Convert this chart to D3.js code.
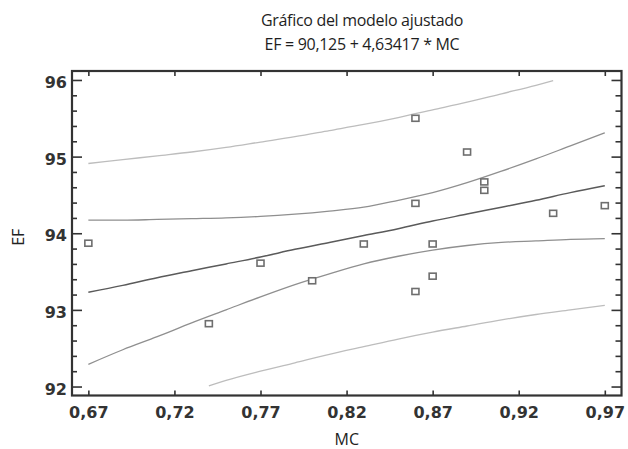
<!DOCTYPE html>
<html>
<head>
<meta charset="utf-8">
<script src="https://cdn.jsdelivr.net/npm/d3@7"></script>
<style>
  html, body { margin: 0; padding: 0; background: #fff; }
  svg { display: block; }
</style>
</head>
<body>
<svg id="chart" width="628" height="449"></svg>
<script>
// ---- Data ----
const titleLines = ["Gráfico del modelo ajustado", "EF = 90,125 + 4,63417 * MC"];
const xLabel = "MC";
const yLabel = "EF";
const xTickValues = [0.67, 0.72, 0.77, 0.82, 0.87, 0.92, 0.97];
const yTickValues = [92, 93, 94, 95, 96];
const yMinorTickValues = [92.2, 92.4, 92.6, 92.8, 93.2, 93.4, 93.6, 93.8, 94.2, 94.4, 94.6, 94.8, 95.2, 95.4, 95.6, 95.8];

// observed points
const mc = [0.67, 0.74, 0.77, 0.80, 0.83, 0.86, 0.86, 0.86, 0.87, 0.87, 0.89, 0.90, 0.90, 0.94, 0.97];
const ef = [93.87, 92.82, 93.61, 93.38, 93.86, 95.50, 94.39, 93.24, 93.86, 93.44, 95.06, 94.67, 94.56, 94.26, 94.36];

// curves
const curveMC = [0.67, 0.69, 0.71, 0.73, 0.75, 0.77, 0.79, 0.81, 0.83, 0.85, 0.87, 0.89, 0.91, 0.93, 0.95, 0.97];
const fitted  = [93.23, 93.32, 93.42, 93.51, 93.60, 93.69, 93.79, 93.88, 93.97, 94.06, 94.16, 94.25, 94.34, 94.43, 94.53, 94.62];
const confUpper = [94.17, 94.17, 94.18, 94.19, 94.20, 94.22, 94.25, 94.29, 94.34, 94.43, 94.53, 94.66, 94.81, 94.97, 95.14, 95.31];
const confLower = [92.29, 92.48, 92.65, 92.83, 93.00, 93.17, 93.33, 93.47, 93.60, 93.70, 93.78, 93.84, 93.88, 93.90, 93.92, 93.93];
const predUpperMC = [0.67, 0.69, 0.71, 0.73, 0.75, 0.77, 0.79, 0.81, 0.83, 0.85, 0.87, 0.89, 0.91, 0.93, 0.94];
const predUpper   = [94.91, 94.96, 95.01, 95.06, 95.12, 95.19, 95.26, 95.34, 95.42, 95.51, 95.61, 95.71, 95.82, 95.93, 95.99];
const predLowerMC = [0.74, 0.75, 0.77, 0.79, 0.81, 0.83, 0.85, 0.87, 0.89, 0.91, 0.93, 0.95, 0.97];
const predLower   = [92.01, 92.08, 92.20, 92.31, 92.42, 92.52, 92.62, 92.71, 92.79, 92.87, 92.94, 93.00, 93.06];

// ---- Layout ----
const svg = d3.select("#chart");
const plot = { left: 72, right: 621.5, top: 71, bottom: 395.5 };

const x = d3.scaleLinear().domain([0.6605, 0.9797]).range([plot.left, plot.right]);
const y = d3.scaleLinear().domain([91.883, 96.117]).range([plot.bottom, plot.top]);

const locale = d3.formatLocale({ decimal: ",", thousands: ".", grouping: [3], currency: ["", ""] });
const fmtX = locale.format(".2f");
const fmtY = locale.format("d");

const textFont = "'Open Sans', sans-serif";
const tickFont = "'DejaVu Sans', sans-serif";

// Title
svg.append("g").selectAll("text").data(titleLines).join("text")
  .attr("x", 362)
  .attr("y", (d, i) => 26 + i * 24)
  .attr("text-anchor", "middle")
  .attr("font-family", textFont)
  .attr("font-size", 16)
  .attr("letter-spacing", "-0.3")
  .attr("fill", "#1e1e1e")
  .text(d => d);

// Curves
const line = d3.line().x(d => x(d[0])).y(d => y(d[1])).curve(d3.curveMonotoneX);
const zip = (a, b) => a.map((v, i) => [v, b[i]]);

const curves = [
  { pts: zip(predUpperMC, predUpper), color: "#bdbdbd", w: 1.3 },
  { pts: zip(predLowerMC, predLower), color: "#bdbdbd", w: 1.3 },
  { pts: zip(curveMC, confUpper), color: "#8f8f8f", w: 1.3 },
  { pts: zip(curveMC, confLower), color: "#8f8f8f", w: 1.3 },
  { pts: zip(curveMC, fitted), color: "#5a5a5a", w: 1.5 }
];
svg.append("g").selectAll("path").data(curves).join("path")
  .attr("d", d => line(d.pts))
  .attr("fill", "none")
  .attr("stroke", d => d.color)
  .attr("stroke-width", d => d.w);

// Points
svg.append("g").selectAll("rect").data(zip(mc, ef)).join("rect")
  .attr("x", d => x(d[0]) - 3.5)
  .attr("y", d => y(d[1]) - 3)
  .attr("width", 7)
  .attr("height", 6)
  .attr("fill", "#fff")
  .attr("stroke", "#6e6e6e")
  .attr("stroke-width", 1.6);

// Axes
function styleAxis(g) {
  g.select(".domain").remove();
  g.selectAll("line").attr("stroke", "#333").attr("stroke-width", 1.6);
  g.selectAll("text").attr("font-family", tickFont).attr("font-weight", "bold")
    .attr("font-size", 16).attr("fill", "#333");
}

// left majors with labels
svg.append("g").attr("transform", `translate(${plot.left},0)`)
  .call(d3.axisLeft(y).tickValues(yTickValues).tickSize(-10).tickPadding(5).tickFormat(fmtY))
  .call(styleAxis)
  .call(g => g.selectAll("text").attr("dy", "0.47em"));
svg.append("g").attr("transform", `translate(${plot.left},0)`)
  .call(d3.axisLeft(y).tickValues(yMinorTickValues).tickSize(-5).tickFormat(""))
  .call(styleAxis);
// right
svg.append("g").attr("transform", `translate(${plot.right},0)`)
  .call(d3.axisRight(y).tickValues(yTickValues).tickSize(-10).tickFormat(""))
  .call(styleAxis);
svg.append("g").attr("transform", `translate(${plot.right},0)`)
  .call(d3.axisRight(y).tickValues(yMinorTickValues).tickSize(-6).tickFormat(""))
  .call(styleAxis);
// bottom
svg.append("g").attr("transform", `translate(0,${plot.bottom})`)
  .call(d3.axisBottom(x).tickValues(xTickValues).tickSize(-5).tickPadding(11).tickFormat(fmtX))
  .call(styleAxis);
// top
svg.append("g").attr("transform", `translate(0,${plot.top})`)
  .call(d3.axisTop(x).tickValues(xTickValues).tickSize(-5).tickFormat(""))
  .call(styleAxis);

// frame
svg.append("rect")
  .attr("x", plot.left).attr("y", plot.top)
  .attr("width", plot.right - plot.left).attr("height", plot.bottom - plot.top)
  .attr("fill", "none").attr("stroke", "#333").attr("stroke-width", 2.2);

// Axis titles
svg.append("text")
  .attr("x", (plot.left + plot.right) / 2)
  .attr("y", 445)
  .attr("text-anchor", "middle")
  .attr("font-family", textFont).attr("font-size", 16).attr("fill", "#222")
  .text(xLabel);
svg.append("text")
  .attr("transform", `translate(24,${(plot.top + plot.bottom) / 2 + 4}) rotate(-90)`)
  .attr("text-anchor", "middle")
  .attr("font-family", textFont).attr("font-size", 16).attr("fill", "#222")
  .text(yLabel);
</script>
</body>
</html>
